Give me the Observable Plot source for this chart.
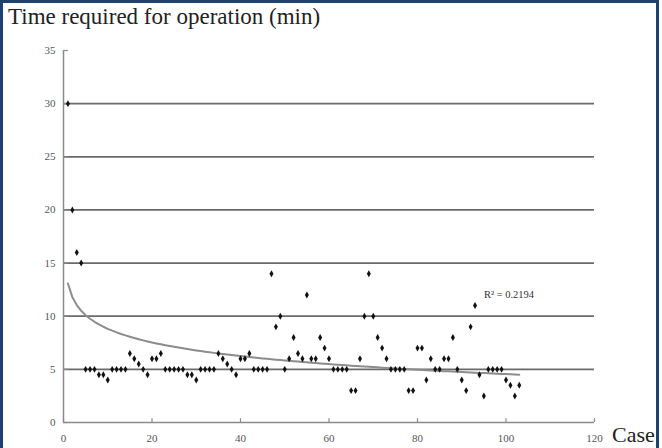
<!DOCTYPE html>
<html><head><meta charset="utf-8">
<script src="https://cdn.jsdelivr.net/npm/d3@7"></script>
<script src="https://cdn.jsdelivr.net/npm/@observablehq/plot@0.6"></script>
<style>
html,body{margin:0;padding:0;background:#fff;}
#wrap{position:relative;width:662px;height:448px;overflow:hidden;font-family:'Liberation Serif','Tinos','DejaVu Serif',serif;background:#fff;}
#frame{position:absolute;left:0;top:0;width:653px;height:470px;border:3px solid #1d4270;pointer-events:none;}
#title{position:absolute;left:8px;top:5px;font-size:23px;line-height:1;color:#222;white-space:nowrap;}
#case{position:absolute;left:612px;top:424px;font-size:22px;line-height:1;color:#222;}
#chart{position:absolute;left:0;top:0;}
</style></head>
<body>
<div id="wrap">
  <div id="chart"></div>
  <div id="title"></div>
  <div id="case"></div>
  <div id="frame"></div>
</div>
<script>
const titleText = "Time required for operation (min)";
const xLabelText = "Case";
const r2Text = "R² = 0.2194";
const xTicks = [0, 20, 40, 60, 80, 100, 120];
const yTicks = [0, 5, 10, 15, 20, 25, 30, 35];
const times = [
  30, 20, 16, 15, 5, 5, 5, 4.5, 4.5, 4,
  5, 5, 5, 5, 6.5, 6, 5.5, 5, 4.5, 6,
  6, 6.5, 5, 5, 5, 5, 5, 4.5, 4.5, 4,
  5, 5, 5, 5, 6.5, 6, 5.5, 5, 4.5, 6,
  6, 6.5, 5, 5, 5, 5, 14, 9, 10, 5,
  6, 8, 6.5, 6, 12, 6, 6, 8, 7, 6,
  5, 5, 5, 5, 3, 3, 6, 10, 14, 10,
  8, 7, 6, 5, 5, 5, 5, 3, 3, 7,
  7, 4, 6, 5, 5, 6, 6, 8, 5, 4,
  3, 9, 11, 4.5, 2.5, 5, 5, 5, 5, 4,
  3.5, 2.5, 3.5
];

document.getElementById("title").textContent = titleText;
document.getElementById("case").textContent = xLabelText;

const data = times.map((t, i) => ({case: i + 1, time: t}));

// logarithmic least-squares trend line (Excel-style)
const lx = data.map(d => Math.log(d.case));
const mx = d3.mean(lx), my = d3.mean(data, d => d.time);
let sxy = 0, sxx = 0;
data.forEach((d, i) => { sxy += (lx[i] - mx) * (d.time - my); sxx += (lx[i] - mx) ** 2; });
const slope = sxy / sxx, intercept = my - slope * mx;
const trend = data.map(d => ({case: d.case, time: intercept + slope * Math.log(d.case)}));

const grid = yTicks.filter(v => v > 0 && v < 35);
const font = "'Liberation Serif', 'Tinos', 'DejaVu Serif', serif";

const chart = Plot.plot({
  width: 662,
  height: 448,
  marginLeft: 63,
  marginRight: 68,
  marginTop: 50,
  marginBottom: 26,
  style: {fontFamily: font, fontSize: "11px", background: "transparent", color: "#555"},
  x: {domain: [0, 120], ticks: xTicks, label: null},
  y: {domain: [0, 35], ticks: yTicks, label: null},
  marks: [
    Plot.ruleY(grid, {stroke: "#6a6a6a", strokeWidth: 1.7}),
    Plot.ruleY([0], {stroke: "#8a8a8a", strokeWidth: 1.5}),
    Plot.ruleX([0], {stroke: "#8a8a8a", strokeWidth: 1.5}),
    Plot.ruleY(yTicks, {x1: 0, x2: 1.1, stroke: "#8a8a8a", strokeWidth: 1.2}),
    Plot.ruleX(xTicks, {y1: 0, y2: 0.35, stroke: "#8a8a8a", strokeWidth: 1.2}),
    Plot.axisY({ticks: yTicks, tickSize: 0, tickPadding: 8, fill: "#555", fontSize: 11}),
    Plot.axisX({ticks: xTicks, tickSize: 0, tickPadding: 12, fill: "#555", fontSize: 11}),
    Plot.line(trend, {x: "case", y: "time", stroke: "#8c8c8c", strokeWidth: 2}),
    Plot.dot(data, {x: "case", y: "time", symbol: "diamond", r: 2.1, fill: "#111", stroke: "none"}),
    Plot.text([r2Text], {x: 95, y: 12, text: d => d, textAnchor: "start", fill: "#333", fontSize: 10.5})
  ]
});
document.getElementById("chart").appendChild(chart);
</script>
</body></html>
